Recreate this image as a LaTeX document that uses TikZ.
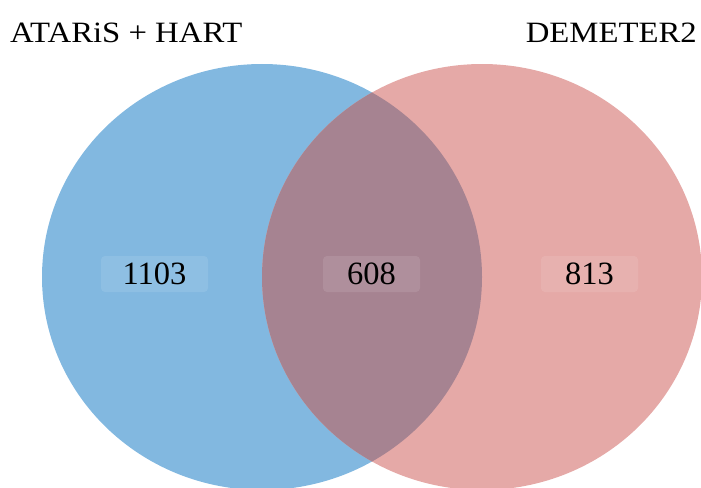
\documentclass[tikz,border=0pt]{standalone}
\usepackage{fontspec}
\setmainfont{Liberation Serif}
\newfontfamily\titlefont[FakeStretch=1.11]{Liberation Serif}
\definecolor{setblue}{HTML}{82B8E0}
\definecolor{setred}{HTML}{E5A9A7}
\definecolor{setboth}{HTML}{A68391}
\begin{document}
\begin{tikzpicture}[x=1pt,y=-1pt,
  settitle/.style={font=\titlefont\fontsize{29.5}{32}\selectfont, inner sep=0pt},
  countbox/.style={fill=white, fill opacity=0.1, text opacity=1,
    rounded corners=4pt, minimum width=97pt, minimum height=36pt,
    inner sep=0pt, font=\fontsize{32.5}{34}\selectfont}]
  \useasboundingbox (0,0) rectangle (701,487);
  \clip (0,0) rectangle (701,487);
  % the two sets
  \fill[setblue] (262,277) ellipse [x radius=220, y radius=213];
  \fill[setred] (482,277) ellipse [x radius=220, y radius=213];
  % their intersection
  \begin{scope}
    \clip (262,277) ellipse [x radius=220, y radius=213];
    \fill[setboth] (482,277) ellipse [x radius=220, y radius=213];
  \end{scope}
  % set names
  \node[settitle, anchor=base west] (titleA) at (10,43) {ATARiS + HART};
  \node[settitle, anchor=base east] (titleB) at (697,43) {DEMETER2};
  % counts
  \node[countbox, minimum width=107pt] (onlyA) at (154.5,274) {1103};
  \node[countbox] (both) at (371.5,274) {608};
  \node[countbox] (onlyB) at (589.5,274) {813};
\end{tikzpicture}
\end{document}
